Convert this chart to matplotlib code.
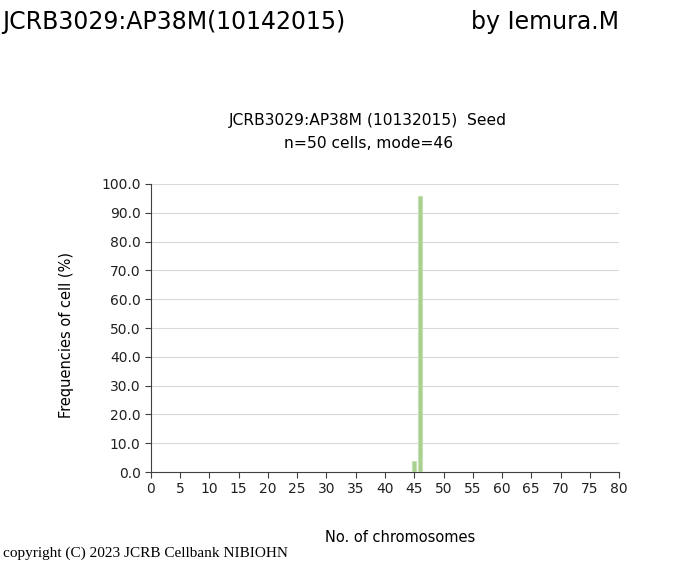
import numpy as np
import matplotlib.pyplot as plt

chromosomes = [45, 46]
frequencies = [4.0, 96.0]
xticks = list(range(0, 81, 5))
yticks = [0, 10, 20, 30, 40, 50, 60, 70, 80, 90, 100]

fig = plt.figure(figsize=(7, 5.67), dpi=100)
ax = fig.add_axes([0.2157, 0.1675, 0.6686, 0.508])

ax.bar(chromosomes, frequencies, width=0.75, color='#a9d08e', edgecolor='#c5e0b4', linewidth=0.8, zorder=3)

ax.set_xlim(0, 80)
ax.set_ylim(0, 100)
ax.set_xticks(xticks)
ax.set_yticks(yticks)
ax.set_yticklabels(['%.1f' % v for v in yticks])
ax.yaxis.grid(True, color='#d9d9d9', linewidth=0.8, zorder=0)
ax.spines['top'].set_visible(False)
ax.spines['right'].set_visible(False)
ax.spines['left'].set_color('#404040')
ax.spines['bottom'].set_color('#404040')
ax.tick_params(axis='both', direction='out', length=4, color='#404040', labelsize=10, labelcolor='#202020')

fig.text(0.526, 1 - 121/567, 'JCRB3029:AP38M (10132015)  Seed', ha='center', va='center', fontsize=11.2)
fig.text(0.526, 1 - 144/567, 'n=50 cells, mode=46', ha='center', va='center', fontsize=11.2)
fig.text(66/700, 1 - 335/567, 'Frequencies of cell (%)', rotation=90, ha='center', va='center', fontsize=10.5)
fig.text(400/700, 1 - 537/567, 'No. of chromosomes', ha='center', va='center', fontsize=10.5)

fig.text(2/700, 1 - 22/567, 'JCRB3029:AP38M(10142015)', ha='left', va='center', fontsize=17, family='DejaVu Sans')
fig.text(471/700, 1 - 22/567, 'by Iemura.M', ha='left', va='center', fontsize=17, family='DejaVu Sans')
fig.text(3/700, 1 - 553/567, 'copyright (C) 2023 JCRB Cellbank NIBIOHN', ha='left', va='center', fontsize=11, family='Liberation Serif')

fig.savefig('out.png', dpi=100)
